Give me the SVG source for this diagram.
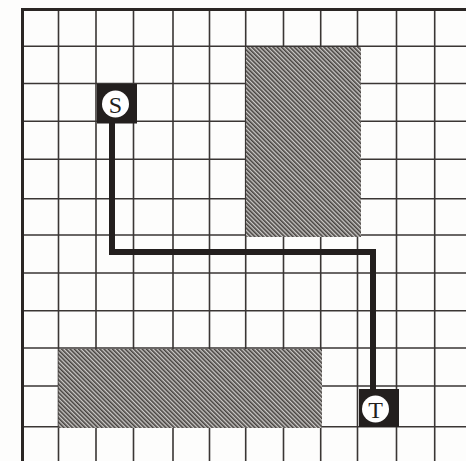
<svg xmlns="http://www.w3.org/2000/svg" width="466" height="461" viewBox="0 0 466 461">
<defs>
<pattern id="hatch" width="3" height="3" patternUnits="userSpaceOnUse" patternTransform="rotate(-45)">
<rect width="3" height="3" fill="#cccac8"/>
<rect width="1.6" height="3" fill="#46423f"/>
</pattern>
</defs>
<style>
.g{stroke:#3a3634;stroke-width:1.6;fill:none}
.b{stroke:#2a2624;stroke-width:3;fill:none}
.ob{fill:url(#hatch)}
.sq{fill:#231f1e}
.ci{fill:#ffffff}
.lb{font-family:"Liberation Serif",serif;font-size:24px;fill:#231f1e;text-anchor:middle}
.wire{stroke:#231f1e;stroke-width:6;fill:none;stroke-linejoin:miter}
</style>
<rect width="466" height="461" fill="#fdfdfc"/>
<g id="grid">
<path class="g" d="M58.5 9.5V461M96 9.5V461M133.5 9.5V461M173 9.5V461M209.5 9.5V461M245.7 9.5V461M283.5 9.5V461M320.7 9.5V461M357.5 9.5V461M396.5 9.5V461M434.7 9.5V461"/>
<path class="g" d="M22.5 46.3H466M22.5 83.5H466M22.5 121.3H466M22.5 159.3H466M22.5 198.7H466M22.5 235H466M22.5 273H466M22.5 310.7H466M22.5 348H466M22.5 386H466M22.5 426.7H466"/>
<path class="b" d="M22.5 461V9.5H466"/>
</g>
<g id="obstacle1"><rect class="ob" x="246" y="47" width="115" height="190"/></g>
<g id="obstacle2"><rect class="ob" x="58.5" y="349" width="263.5" height="79"/></g>
<g id="connectors">
<path class="wire" d="M112 120V252H373V392"/>
</g>
<g id="S">
<rect class="sq" x="97" y="84" width="40" height="39.5"/>
<circle class="ci" cx="115.5" cy="104" r="13.5"/>
<text class="lb" x="115.5" y="112.5">S</text>
</g>
<g id="T">
<rect class="sq" x="359" y="389" width="40" height="38"/>
<circle class="ci" cx="375.5" cy="409" r="13.5"/>
<text class="lb" x="375.5" y="417.5">T</text>
</g>
</svg>
